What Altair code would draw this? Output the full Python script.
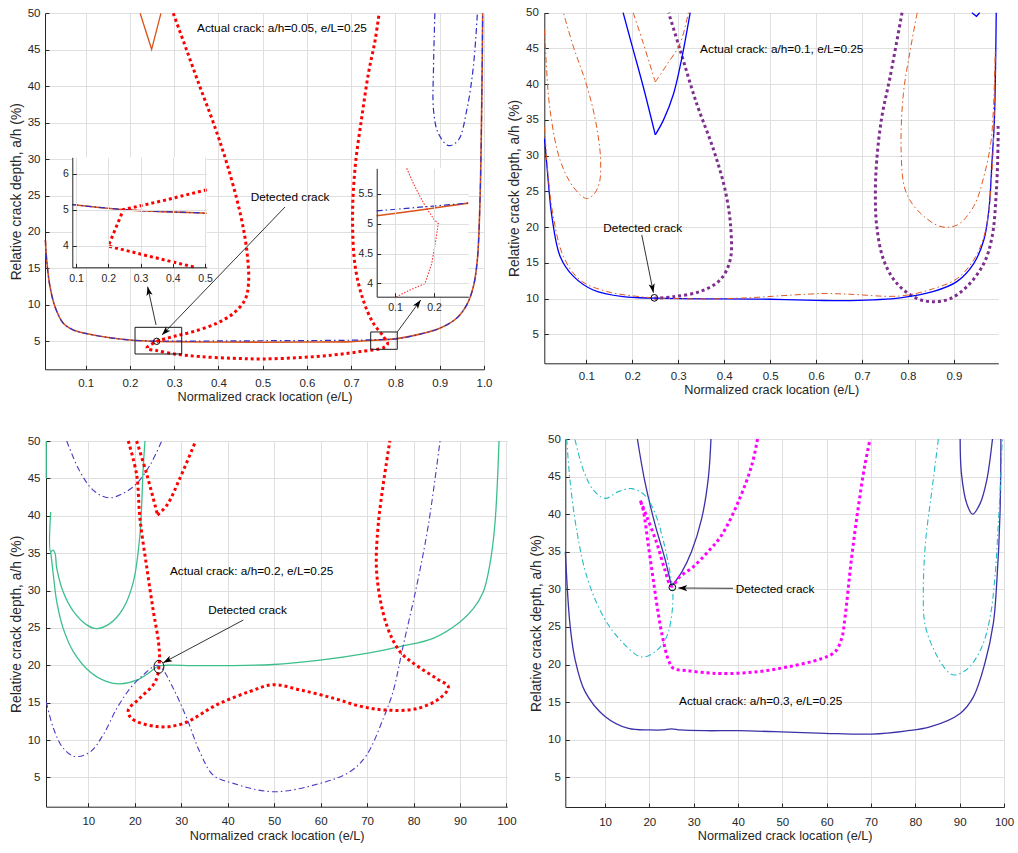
import math
import altair as alt
import pandas as pd

W, H = 1018, 853
FONT = "Liberation Sans"
INK = "#262626"
GRID = "#dfdfdf"

# ---------------- layout of the six plot boxes (axis domain + pixel box) ----------------
P1 = dict(xd=[0.0081, 1.0], xr=[45, 484], yd=[1.16, 50], yr=[369.3, 13.3])
P2 = dict(xd=[0.0085, 0.9965], xr=[544.3, 998.3], yd=[0.94, 50], yr=[363.3, 12.7])
P3 = dict(xd=[0.89, 100.18], xr=[46, 507.3], yd=[1.08, 50], yr=[806.7, 441])
P4 = dict(xd=[1.04, 100], xr=[565.3, 1004], yd=[1.05, 50], yr=[807, 439])
I1 = dict(xd=[0.0885, 0.505], xr=[72.3, 206.7], yd=[3.4, 6.45], yr=[267.3, 157.3])
I2 = dict(xd=[0.053, 0.288], xr=[376.7, 468.3], yd=[3.78, 5.92], yr=[296.7, 168.3])

# ---------------- tick values ----------------
ticks_frac = [0.1, 0.2, 0.3, 0.4, 0.5, 0.6, 0.7, 0.8, 0.9]
ticks_frac1 = ticks_frac + [1.0]
ticks_pct = [10, 20, 30, 40, 50, 60, 70, 80, 90, 100]
ticks_depth = [5, 10, 15, 20, 25, 30, 35, 40, 45, 50]
ins1_xt = [0.1, 0.2, 0.3, 0.4, 0.5]
ins1_yt = [4, 5, 6]
ins2_xt = [0.1, 0.2]
ins2_yt = [4, 4.5, 5, 5.5]

XTITLE = "Normalized crack location (e/L)"
YTITLE = "Relative crack depth, a/h (%)"

# ---------------- panel 1: a/h = 0.05 ----------------
p1_u_x = [0.009, 0.0119, 0.0194, 0.0307, 0.0495, 0.072, 0.0985, 0.1475, 0.2, 0.253, 0.3, 0.4, 0.5,
          0.6, 0.7, 0.75, 0.8, 0.848, 0.9, 0.938, 0.961, 0.976, 0.985, 0.991, 0.995, 0.997]
p1_orange_y = [18.9, 16.15, 12.49, 9.75, 7.47, 6.55, 6.1, 5.55, 5.18, 5.0, 4.95, 4.9, 4.88,
               4.9, 4.95, 5.14, 5.34, 5.88, 6.79, 8.16, 10.0, 12.5, 16.2, 24.4, 38.1, 50]
p1_blue_y = [18.9, 16.15, 12.49, 9.75, 7.47, 6.55, 6.1, 5.55, 5.18, 5.02, 5.02, 5.05, 5.08,
             5.1, 5.15, 5.21, 5.34, 5.88, 6.79, 8.16, 10.0, 12.5, 16.2, 24.4, 38.1, 50]
p1_blue2_x = [0.889, 0.886, 0.886, 0.897, 0.92, 0.942, 0.961, 0.976, 0.985]
p1_blue2_y = [50, 42.7, 36.7, 33.5, 31.85, 32.6, 36.7, 42.7, 50]
p1_orange_v_x = [0.223, 0.249, 0.27]
p1_orange_v_y = [50, 45.06, 50]
p1_red_x = [0.298, 0.328, 0.358, 0.389, 0.419, 0.449, 0.464, 0.468, 0.46, 0.434, 0.396, 0.343, 0.298,
            0.26, 0.238, 0.26, 0.306, 0.358, 0.434, 0.5, 0.584, 0.66, 0.72, 0.773, 0.782, 0.773,
            0.75, 0.727, 0.709, 0.703, 0.709, 0.724, 0.739, 0.754, 0.763]
p1_red_y = [50, 44.97, 39.94, 34.9, 29.4, 22.6, 17.5, 13.0, 10.7, 8.85, 7.47, 6.33, 5.65,
            4.96, 4.05, 3.73, 3.22, 2.9, 2.67, 2.58, 2.77, 3.13, 3.59, 4.14, 4.64, 5.65,
            7.47, 10.68, 15.25, 22.1, 28.97, 35.8, 41.8, 46.3, 50]
p1_boxes_x = [0.2115, 0.744]
p1_boxes_x2 = [0.317, 0.804]
p1_boxes_y = [3.26, 3.90]
p1_boxes_y2 = [6.92, 6.28]
p1_arrow_x0 = [0.5505, 0.259, 0.804]
p1_arrow_y0 = [23.43, 7.24, 6.28]
p1_arrow_x1 = [0.2725, 0.240, 0.857]
p1_arrow_y1 = [5.87, 12.5, 10.67]
p1_text = ["Actual crack: a/h=0.05, e/L=0.25", "Detected crack"]
p1_text_x = [0.3516, 0.473]
p1_text_y = [48.0, 24.8]
p1_mark_x = [0.2605]
p1_mark_y = [5.0]

# inset 1
ins1_line_x = [0.0885, 0.15, 0.25, 0.35, 0.45, 0.505]
ins1_line_y = [5.14, 5.08, 5.0, 4.95, 4.92, 4.9]
ins1_red_x = [0.505, 0.38, 0.247, 0.2, 0.33, 0.469]
ins1_red_y = [5.55, 5.27, 5.0, 3.99, 3.7, 3.4]
# inset 2
ins2_blue_x = [0.053, 0.288]
ins2_blue_y = [5.21, 5.34]
ins2_orange_x = [0.053, 0.17, 0.288]
ins2_orange_y = [5.13, 5.23, 5.34]
ins2_red_x = [0.13, 0.147, 0.16, 0.181, 0.2, 0.211, 0.203, 0.194, 0.177, 0.138, 0.104]
ins2_red_y = [5.92, 5.67, 5.5, 5.25, 5.07, 5.0, 4.66, 4.33, 4.0, 3.89, 3.78]

# ---------------- panel 2: a/h = 0.1 ----------------
p2_blue_u_x = [0.009, 0.015, 0.025, 0.043, 0.072, 0.115, 0.18, 0.25, 0.4, 0.5, 0.6, 0.674, 0.783,
               0.856, 0.907, 0.943, 0.965, 0.976, 0.983, 0.988, 0.992]
p2_blue_u_y = [32.4, 28.0, 21.5, 15.9, 13.1, 11.2, 10.26, 10.05, 9.95, 9.9, 9.75, 9.72, 10.1,
               11.0, 12.4, 14.9, 18.2, 22.4, 29.4, 35.0, 50.0]
p2_blue_v_x = [0.18, 0.202, 0.224, 0.25, 0.268, 0.29, 0.307, 0.326]
p2_blue_v_y = [50, 44.8, 39.6, 32.9, 35.0, 38.7, 43.4, 50]
p2_blue_tip_x = [0.939, 0.949, 0.956]
p2_blue_tip_y = [50, 49.5, 50]
p2_or_loopl_x = [0.009, 0.0123, 0.021, 0.0427, 0.0717, 0.1, 0.115, 0.128, 0.131, 0.126, 0.115,
                 0.097, 0.072, 0.05]
p2_or_loopl_y = [47.6, 43.4, 36.4, 29.4, 25.6, 24.0, 24.5, 26.1, 29.4, 32.6, 36.4, 40.6, 45.2, 50]
p2_or_v_x = [0.202, 0.224, 0.25, 0.275, 0.304, 0.322]
p2_or_v_y = [50, 45.7, 40.3, 42.7, 45.7, 50]
p2_or_u_x = [0.009, 0.017, 0.028, 0.05, 0.086, 0.144, 0.217, 0.25, 0.35, 0.45, 0.55, 0.62, 0.674,
             0.783, 0.856, 0.907, 0.943, 0.965, 0.976, 0.983, 0.987, 0.99]
p2_or_u_y = [34.0, 27.1, 21.5, 15.9, 12.6, 11.0, 10.26, 10.1, 9.95, 10.1, 10.5, 10.7, 10.6,
             10.36, 11.4, 12.8, 15.4, 18.6, 22.4, 28.0, 34.0, 44.8]
p2_or_loopr_x = [0.82, 0.805, 0.79, 0.785, 0.794, 0.82, 0.87, 0.907, 0.943, 0.965, 0.98, 0.985,
                 0.988, 0.99]
p2_or_loopr_y = [50, 44.8, 38.7, 30.8, 25.2, 22.4, 20.1, 20.3, 22.9, 27.05, 31.7, 35.5, 40.0, 44.8]
p2_pur_l_x = [0.248, 0.29, 0.348, 0.391, 0.413, 0.414, 0.402, 0.377, 0.34, 0.304, 0.279]
p2_pur_l_y = [10.05, 10.26, 11.0, 12.6, 15.4, 20.1, 25.2, 30.8, 37.3, 44.8, 50]
p2_pur_r_x = [0.787, 0.761, 0.743, 0.732, 0.729, 0.732, 0.747, 0.776, 0.82, 0.856, 0.892, 0.928,
              0.965, 0.983, 0.992, 0.996, 0.996]
p2_pur_r_y = [50, 41.0, 35.4, 29.4, 24.7, 20.1, 15.4, 12.1, 10.0, 9.56, 10.0, 11.66, 14.9, 18.65,
              24.7, 31.7, 34.3]
p2_arrow_x0 = [0.2206]
p2_arrow_y0 = [18.9]
p2_arrow_x1 = [0.246]
p2_arrow_y1 = [10.82]
p2_text = ["Actual crack: a/h=0.1, e/L=0.25", "Detected crack"]
p2_text_x = [0.3476, 0.137]
p2_text_y = [44.9, 19.87]
p2_mark_x = [0.248]
p2_mark_y = [10.1]

# ---------------- panel 3: a/h = 0.2 ----------------
p3_gr_edge_x = [0.95, 0.95]
p3_gr_edge_y = [50, 45]
p3_gr_up_x = [1.9, 1.9, 2.4, 2.83, 3.2, 4.6, 6.8, 9.66, 11.8, 14.7, 17.5, 19.7, 21.1, 21.8, 22.2]
p3_gr_up_y = [40.5, 35.2, 35.4, 35.0, 33.0, 29.8, 27.2, 25.4, 24.9, 25.6, 27.6, 31.2, 37.4, 46.3, 50]
p3_gr_lo_x = [1.9, 2.47, 3.2, 4.6, 6.8, 10.4, 14.0, 16.8, 20.4, 23.3, 25.1, 26.9, 34.0, 49.8, 59.9,
              69.9, 77.1, 84.2, 90.0, 92.9, 95.0, 96.4, 97.5, 98.4]
p3_gr_lo_y = [35.2, 32.1, 28.5, 24.9, 21.8, 19.1, 17.8, 17.5, 18.0, 19.1, 19.9, 20.0, 19.94, 20.1,
              20.7, 21.6, 22.5, 23.6, 25.8, 27.6, 29.8, 33.4, 38.8, 50]
p3_bl_up_x = [5.35, 8.2, 11.1, 14.3, 17.5, 20.4, 23.3, 25.8]
p3_bl_up_y = [50, 45.9, 43.4, 42.4, 43.0, 44.3, 46.8, 50]
p3_bl_lo_x = [0.95, 2.47, 4.6, 7.1, 10.4, 13.2, 16.1, 19.0, 21.8, 24.7, 25.8, 28.3, 31.2, 34.0,
              36.9, 41.2, 49.8, 59.9, 66.3, 69.9, 73.5, 75.6, 77.8, 80.7, 83.2, 85.7]
p3_bl_lo_y = [15.1, 11.6, 8.9, 7.8, 8.4, 10.7, 14.2, 16.9, 18.7, 20.0, 19.6, 16.9, 12.9, 8.4,
              5.3, 4.2, 3.08, 4.2, 5.75, 8.0, 12.9, 16.5, 22.7, 30.7, 38.8, 50]
p3_red_x = [18.6, 20.4, 21.1, 22.6, 24.0, 25.1, 25.3, 24.4, 21.1, 18.6, 19.3, 24.7, 30.4, 37.6,
            44.8, 49.8, 55.6, 62.7, 68.7, 74.2, 80.7, 85.7, 87.5, 85.0, 80.0, 77.1, 74.2, 72.1,
            72.4, 74.9]
p3_red_y = [50, 45.5, 39.7, 33.0, 27.2, 23.1, 20.5, 17.8, 15.6, 14.0, 12.9, 11.8, 12.2, 14.7,
            16.5, 17.4, 16.7, 15.6, 14.5, 14.0, 14.2, 15.6, 17.1, 18.2, 20.25, 21.8, 25.4, 32.1,
            38.8, 50]
p3_red_v_x = [20.4, 22.6, 24.9, 27.0, 29.7, 33.1]
p3_red_v_y = [50, 45.5, 40.1, 41.5, 45.0, 50]
p3_arrow_x0 = [43.36]
p3_arrow_y0 = [26.05]
p3_arrow_x1 = [26.14]
p3_arrow_y1 = [20.35]
p3_text = ["Actual crack: a/h=0.2, e/L=0.25", "Detected crack"]
p3_text_x = [27.58, 35.8]
p3_text_y = [32.65, 27.4]
p3_mark_x = [25.2]
p3_mark_y = [19.8]

# ---------------- panel 4: a/h = 0.3 ----------------
p4_nv_u_x = [1.05, 2.1, 3.2, 5.5, 10, 15.3, 20, 23, 25, 27, 32.6, 40, 49.8, 59.6, 70.2, 77.7, 83.3,
             90.1, 93.1, 95.7, 97.6, 98.4, 99.1, 99.3]
p4_nv_u_y = [35.0, 25.3, 20.8, 16.4, 13.1, 11.5, 11.3, 11.3, 11.45, 11.3, 11.2, 11.2, 11.05, 10.85,
             10.75, 11.15, 11.7, 13.5, 15.7, 20.2, 25.5, 31.2, 40.1, 50]
p4_nv_v_x = [17.3, 19.0, 21.3, 23.5, 25, 27.3, 29.5, 31.8, 33.3, 33.9]
p4_nv_v_y = [50, 44.3, 38.6, 34.1, 30.4, 32.3, 35.0, 39.4, 44.8, 50]
p4_nv_s_x = [90.1, 90.4, 91.6, 92.9, 94.6, 96.1, 97.4]
p4_nv_s_y = [50, 45.4, 41.4, 40.0, 41.4, 44.5, 50]
p4_cy_l_x = [1.36, 2.1, 3.6, 5.9, 9.6, 13.4, 18.3, 21.7, 23.9, 25.0, 25.3, 24.7, 23.1, 21.3, 19.0,
             16.0, 13.0, 10.0, 7.4, 5.1, 3.2]
p4_cy_l_y = [50, 44.5, 37.9, 31.7, 26.4, 23.3, 21.0, 21.9, 23.7, 26.4, 29.5, 32.1, 36.6, 40.1,
             42.5, 43.4, 43.0, 42.1, 43.2, 45.9, 50]
p4_cy_r_x = [85.2, 83.7, 82.3, 81.8, 82.2, 84.4, 87.4, 88.9, 91.9, 94.9, 96.8, 98.0, 98.7, 99.3, 99.6]
p4_cy_r_y = [50, 43.0, 36.3, 29.7, 25.3, 21.7, 19.0, 18.6, 19.5, 22.2, 26.1, 31.9, 38.6, 45.2, 50]
p4_mg_x = [44.4, 43.1, 40.1, 36.3, 32.9, 29.9, 26.9, 25.0, 23.5, 21.7, 19.4, 17.9, 18.6, 19.8,
           20.9, 22.0, 23.1, 24.3, 25.4, 28.4, 32.9, 36.3, 43.8, 51.3, 58.9, 61.9, 63.4, 64.1,
           65.6, 67.1, 68.6, 69.8]
p4_mg_y = [50, 46.5, 41.7, 37.2, 34.8, 33.0, 31.7, 30.4, 32.6, 36.1, 39.7, 41.9, 40.6, 35.7,
           31.2, 26.8, 23.3, 20.6, 19.5, 19.2, 18.9, 18.8, 19.0, 19.7, 20.8, 21.7, 23.5, 26.1,
           34.1, 40.8, 46.5, 50]
p4_arrow_x0 = [38.87]
p4_arrow_y0 = [30.14]
p4_arrow_x1 = [26.53]
p4_arrow_y1 = [30.18]
p4_text = ["Actual crack: a/h=0.3, e/L=0.25", "Detected crack"]
p4_text_x = [26.69, 39.48]
p4_text_y = [15.15, 30.04]
p4_mark_x = [25.18]
p4_mark_y = [30.27]

HEAD = "M0,0 L0.55,1.6 L0,1.2 L-0.55,1.6 Z"
ELLIPSE = "M0,-1 A0.75,1 0 1,1 0,1 A0.75,1 0 1,1 0,-1 Z"


def sx(P):
    return alt.Scale(domain=P["xd"], range=P["xr"], nice=False, zero=False)


def sy(P):
    return alt.Scale(domain=P["yd"], range=P["yr"], nice=False, zero=False)


def XY(P, xf="x", yf="y"):
    return dict(x=alt.X(f"{xf}:Q", scale=sx(P), axis=None),
                y=alt.Y(f"{yf}:Q", scale=sy(P), axis=None))


def to_px(P, x, y):
    (a, b), (r0, r1) = P["xd"], P["xr"]
    (c, d), (s0, s1) = P["yd"], P["yr"]
    return r0 + (x - a) / (b - a) * (r1 - r0), s0 + (y - c) / (d - c) * (s1 - s0)


def curve(P, xs, ys, color, width, dash=None, interp="catmull-rom", opacity=1.0):
    df = pd.DataFrame({"x": xs, "y": ys, "i": list(range(len(xs)))})
    props = dict(color=color, strokeWidth=width, interpolate=interp, strokeCap="butt",
                 opacity=opacity)
    if dash is not None:
        props["strokeDash"] = dash
    return alt.Chart(df).mark_line(**props).encode(order="i:Q", **XY(P))


def vee(P, xs, ys, color, width, dash=None):
    """A V-shaped curve: two smooth branches meeting at a sharp vertex (lowest point)."""
    k = ys.index(min(ys))
    return [curve(P, xs[:k + 1], ys[:k + 1], color, width, dash),
            curve(P, xs[k:], ys[k:], color, width, dash)]


def frame(P, xt, yt, xfmt, yfmt, xtitle, ytitle, lab=11.5, z=0, lpx=8, lpy=5, tpx=2, tpy=4):
    corners = pd.DataFrame({"x": P["xd"], "y": P["yd"]})
    common = dict(labelFont=FONT, labelFontSize=lab, labelColor=INK, labelOverlap=False,
                  labelFlush=False, domainColor=INK, domainWidth=1, ticks=False, zindex=z,
                  titleFont=FONT, titleFontWeight="normal", titleColor=INK)
    xa = alt.Axis(orient="bottom", offset=P["yr"][0] - H, values=xt, format=xfmt, grid=False,
                  labelPadding=lpx, titlePadding=tpx, title=xtitle, titleFontSize=12.7, **common)
    ya = alt.Axis(orient="left", offset=-P["xr"][0], values=yt, format=yfmt, grid=True,
                  gridColor=GRID, gridWidth=1, labelPadding=lpy, titlePadding=tpy,
                  title=ytitle, titleFontSize=13.8, **common)
    tick_common = dict(labels=False, domain=False, ticks=True, tickSize=4, tickColor=INK,
                       tickWidth=1, title=None, zindex=z)
    xb = alt.Axis(orient="top", offset=-P["yr"][0], values=xt, grid=True, gridColor=GRID,
                  gridWidth=1, **tick_common)
    yb = alt.Axis(orient="right", offset=P["xr"][0] - W, values=yt, grid=False, **tick_common)
    A = alt.Chart(corners).mark_point(opacity=0).encode(
        x=alt.X("x:Q", scale=sx(P), axis=xa), y=alt.Y("y:Q", scale=sy(P), axis=ya))
    B = alt.Chart(corners).mark_point(opacity=0).encode(
        x=alt.X("x:Q", scale=sx(P), axis=xb), y=alt.Y("y:Q", scale=sy(P), axis=yb))
    return [A, B]


def arrows(P, x0, y0, x1, y1):
    ang = []
    for a, b, c, d in zip(x0, y0, x1, y1):
        pa, pb = to_px(P, a, b), to_px(P, c, d)
        ang.append(math.degrees(math.atan2(pb[0] - pa[0], -(pb[1] - pa[1]))) % 360)
    df = pd.DataFrame({"x": x0, "y": y0, "x2": x1, "y2": y1, "ang": ang})
    shaft = alt.Chart(df).mark_rule(color="black", strokeWidth=0.8).encode(
        x2="x2:Q", y2="y2:Q", **XY(P))
    head = alt.Chart(df).mark_point(shape=HEAD, filled=True, color="black", size=125,
                                    opacity=1, strokeWidth=0).encode(
        angle=alt.Angle("ang:Q", scale=None), **XY(P, "x2", "y2"))
    return [shaft, head]


def texts(P, labels, xs, ys):
    df = pd.DataFrame({"x": xs, "y": ys, "t": labels})
    return alt.Chart(df).mark_text(align="left", baseline="middle", font=FONT, fontSize=11.8,
                                   color="black").encode(text="t:N", **XY(P))


def marker(P, xs, ys, shape="circle", size=40):
    df = pd.DataFrame({"x": xs, "y": ys})
    return alt.Chart(df).mark_point(shape=shape, filled=False, color="black", size=size,
                                    strokeWidth=1, opacity=1).encode(**XY(P))


def panel(layers):
    return alt.layer(*layers).resolve_axis(x="independent", y="independent")


DASHDOT = [6, 3, 1.5, 3]
DOT = [3, 3]

# ---------------- panel 1 ----------------
box_df = pd.DataFrame({"x": p1_boxes_x, "x2": p1_boxes_x2, "y": p1_boxes_y, "y2": p1_boxes_y2})
p1_boxes = alt.Chart(box_df).mark_rect(fillOpacity=0, stroke="#1a1a1a", strokeWidth=1).encode(
    x2="x2:Q", y2="y2:Q", **XY(P1))
panel1 = panel([
    curve(P1, p1_u_x, p1_orange_y, "#D95319", 1.6),
    curve(P1, p1_orange_v_x, p1_orange_v_y, "#D95319", 1.3, interp="linear"),
    curve(P1, p1_u_x, p1_blue_y, "#2f2fc4", 1.2, DASHDOT),
    curve(P1, p1_blue2_x, p1_blue2_y, "#2f2fc4", 1.2, DASHDOT),
    curve(P1, p1_red_x, p1_red_y, "#FF0000", 3, DOT),
    p1_boxes,
    *arrows(P1, p1_arrow_x0, p1_arrow_y0, p1_arrow_x1, p1_arrow_y1),
    texts(P1, p1_text, p1_text_x, p1_text_y),
    marker(P1, p1_mark_x, p1_mark_y),
    *frame(P1, ticks_frac1, ticks_depth, ".1f", "d", XTITLE, YTITLE),
])


def inset(P, layers, xt, yt, yfmt):
    bg_df = pd.DataFrame({"x": [P["xd"][0]], "x2": [P["xd"][1]], "y": [P["yd"][0]], "y2": [P["yd"][1]]})
    bg = alt.Chart(bg_df).mark_rect(color="white").encode(x2="x2:Q", y2="y2:Q", **XY(P))
    return panel([bg, *layers, *frame(P, xt, yt, ".1f", yfmt, None, None, lab=10.5, z=1,
                                      lpx=6, lpy=4)])


inset1 = inset(I1, [
    curve(I1, ins1_line_x, ins1_line_y, "#D95319", 1.6),
    curve(I1, ins1_line_x, ins1_line_y, "#2f2fc4", 1.2, DASHDOT),
    curve(I1, ins1_red_x, ins1_red_y, "#FF0000", 3, DOT, interp="linear"),
], ins1_xt, ins1_yt, "d")

inset2 = inset(I2, [
    curve(I2, ins2_orange_x, ins2_orange_y, "#D95319", 1.6),
    curve(I2, ins2_blue_x, ins2_blue_y, "#2f2fc4", 1.2, DASHDOT),
    curve(I2, ins2_red_x, ins2_red_y, "#ff3030", 1.1, [1.5, 1.5], interp="linear"),
], ins2_xt, ins2_yt, "")

# ---------------- panel 2 ----------------
OR2 = "#E2581F"
panel2 = panel([
    curve(P2, p2_pur_l_x, p2_pur_l_y, "#7E2F8E", 3, DOT),
    curve(P2, p2_pur_r_x, p2_pur_r_y, "#7E2F8E", 3, DOT),
    curve(P2, p2_blue_u_x, p2_blue_u_y, "#0000FF", 1.3),
    *vee(P2, p2_blue_v_x, p2_blue_v_y, "#0000FF", 1.3),
    curve(P2, p2_blue_tip_x, p2_blue_tip_y, "#0000FF", 1.3, interp="linear"),
    curve(P2, p2_or_u_x, p2_or_u_y, OR2, 1.0, DASHDOT),
    curve(P2, p2_or_loopl_x, p2_or_loopl_y, OR2, 1.0, DASHDOT),
    *vee(P2, p2_or_v_x, p2_or_v_y, OR2, 1.0, DASHDOT),
    curve(P2, p2_or_loopr_x, p2_or_loopr_y, OR2, 1.0, DASHDOT),
    *arrows(P2, p2_arrow_x0, p2_arrow_y0, p2_arrow_x1, p2_arrow_y1),
    texts(P2, p2_text, p2_text_x, p2_text_y),
    marker(P2, p2_mark_x, p2_mark_y, size=45),
    *frame(P2, ticks_frac, ticks_depth, ".1f", "d", XTITLE, YTITLE, lpx=7, lpy=6),
])

# ---------------- panel 3 ----------------
GR = "#3dbf8c"
BL3 = "#4a3cc4"
panel3 = panel([
    curve(P3, p3_gr_edge_x, p3_gr_edge_y, GR, 1.3, interp="linear"),
    curve(P3, p3_gr_up_x, p3_gr_up_y, GR, 1.3),
    curve(P3, p3_gr_lo_x, p3_gr_lo_y, GR, 1.3),
    curve(P3, p3_bl_up_x, p3_bl_up_y, BL3, 1.1, DASHDOT),
    curve(P3, p3_bl_lo_x, p3_bl_lo_y, BL3, 1.1, DASHDOT),
    curve(P3, p3_red_x, p3_red_y, "#FF0000", 3, DOT),
    *vee(P3, p3_red_v_x, p3_red_v_y, "#FF0000", 3, DOT),
    *arrows(P3, p3_arrow_x0, p3_arrow_y0, p3_arrow_x1, p3_arrow_y1),
    texts(P3, p3_text, p3_text_x, p3_text_y),
    marker(P3, p3_mark_x, p3_mark_y, shape=ELLIPSE, size=169),
    *frame(P3, ticks_pct, ticks_depth, "d", "d", XTITLE, YTITLE, lpx=9, lpy=6),
])

# ---------------- panel 4 ----------------
NV = "#3c32a8"
CY = "#26bcc6"
panel4 = panel([
    curve(P4, p4_nv_u_x, p4_nv_u_y, NV, 1.3),
    *vee(P4, p4_nv_v_x, p4_nv_v_y, NV, 1.3),
    curve(P4, p4_nv_s_x, p4_nv_s_y, NV, 1.3),
    curve(P4, p4_cy_l_x, p4_cy_l_y, CY, 1.1, DASHDOT),
    curve(P4, p4_cy_r_x, p4_cy_r_y, CY, 1.1, DASHDOT),
    curve(P4, p4_mg_x, p4_mg_y, "#FF00FF", 3, DOT),
    *arrows(P4, p4_arrow_x0, p4_arrow_y0, p4_arrow_x1, p4_arrow_y1),
    texts(P4, p4_text, p4_text_x, p4_text_y),
    marker(P4, p4_mark_x, p4_mark_y, size=45),
    *frame(P4, ticks_pct, ticks_depth, "d", "d", XTITLE, YTITLE, lpx=9, lpy=5),
])

chart = alt.layer(panel1, inset1, inset2, panel2, panel3, panel4).resolve_scale(
    x="independent", y="independent").resolve_axis(
    x="independent", y="independent").properties(
    width=W, height=H, padding=0, autosize=alt.AutoSizeParams(type="none"),
    background="white").configure_view(strokeWidth=0)

chart.save("out.html", embed_options={"renderer": "svg", "actions": False})
